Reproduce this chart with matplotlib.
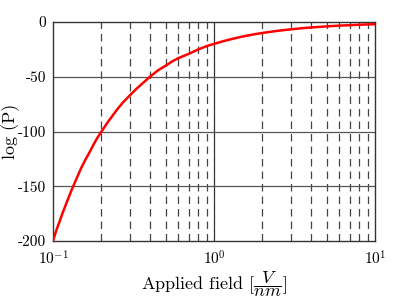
import numpy as np
import matplotlib.pyplot as plt
from matplotlib.ticker import FixedLocator, NullFormatter

plt.rcParams['font.family'] = 'serif'
plt.rcParams['font.serif'] = ['cmr10', 'DejaVu Serif']
plt.rcParams['mathtext.fontset'] = 'cm'
plt.rcParams['axes.unicode_minus'] = False

# values
field = [0.1, 0.105, 0.11, 0.115, 0.12, 0.13, 0.14, 0.15, 0.16, 0.17, 0.18,
         0.19, 0.2, 0.22, 0.25, 0.27, 0.3, 0.33, 0.36, 0.4, 0.45, 0.5, 0.55,
         0.6, 0.7, 0.8, 0.9, 1.0, 1.15, 1.3, 1.5, 1.75, 2.0, 2.5, 3.0, 3.5,
         4.0, 5.0, 6.0, 7.0, 8.0, 9.0, 10.0]
log_p = [-200, -190, -182, -174, -167, -154, -143, -133, -125, -118, -111,
         -105, -100, -91, -80, -74, -67, -61, -56, -50, -44, -40, -36,
         -33, -29, -25, -22, -20, -17.4, -15.4, -13.3, -11.4, -10, -8, -6.7,
         -5.7, -5, -4, -3.3, -2.9, -2.5, -2.2, -2]

yticks = [0, -50, -100, -150, -200]
ytick_labels = ['0', '-50', '-100', '-150', '-200']
xticks = [0.1, 1, 10]
xtick_labels = ['$10^{\\mathrm{-}1}$', '$10^{0}$', '$10^{1}$']

fig = plt.figure(figsize=(4.15, 3.04), dpi=100)
ax = fig.add_axes([53 / 415, 1 - 241 / 304, 322 / 415, 219 / 304])

# grid lines
for m in [0.2, 0.3, 0.4, 0.5, 0.6, 0.7, 0.8, 0.9, 2, 3, 4, 5, 6, 7, 8, 9]:
    ax.axvline(m, color='#444444', lw=0.9, ls=(0, (6, 4)), zorder=1)
ax.axvline(1, color='#333333', lw=0.9, zorder=1)
for y in [-50, -100, -150]:
    ax.axhline(y, color='#555555', lw=0.9, zorder=1)

ax.plot(field, log_p, color='red', lw=1.8, zorder=3)

ax.set_xscale('log')
ax.set_xlim(0.1, 10)
ax.set_ylim(-200, 0)
ax.set_xticks(xticks)
ax.set_xticklabels(xtick_labels)
ax.xaxis.set_minor_locator(FixedLocator([]))
ax.xaxis.set_minor_formatter(NullFormatter())
ax.set_yticks(yticks)
ax.set_yticklabels(ytick_labels)
ax.tick_params(length=0, labelsize=11, pad=5)
ax.tick_params(axis='x', pad=6)

for s in ax.spines.values():
    s.set_color('#333333')
    s.set_linewidth(1.0)

ax.set_ylabel('log (P)', fontsize=13)
ax.yaxis.set_label_coords(-33 / 322, 0.5)
ax.set_xlabel(r'Applied field [$\dfrac{V}{nm}$]', fontsize=13)
ax.xaxis.set_label_coords(0.5, -28 / 219)

fig.savefig('out.png', dpi=100)
